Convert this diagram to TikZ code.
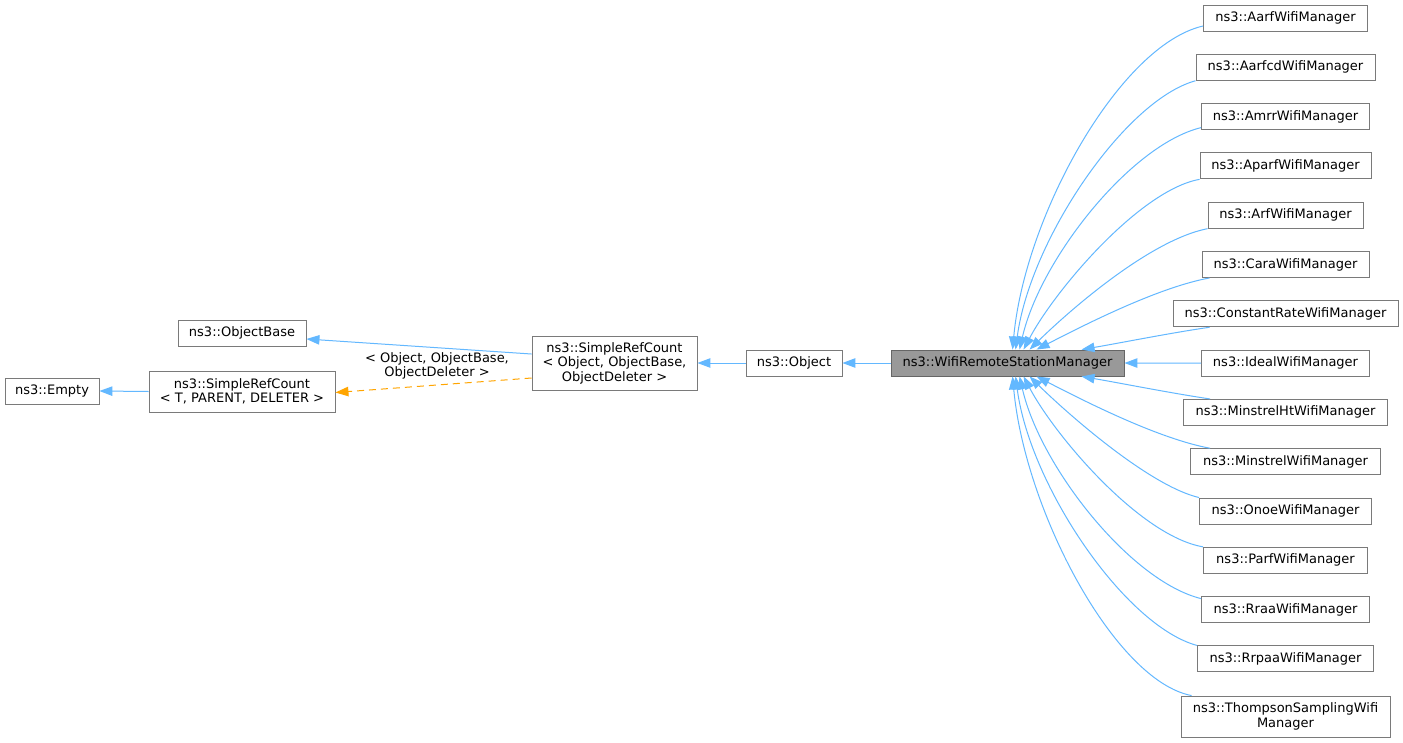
\documentclass[tikz,border=0pt]{standalone}
\usepackage{fontspec}
\setmainfont{DejaVu Sans}
\usetikzlibrary{arrows.meta,calc}
\definecolor{eblue}{HTML}{63B8FF}
\definecolor{eorange}{HTML}{FFA500}
\definecolor{bgray}{HTML}{7A7A7A}
\definecolor{dgray}{HTML}{666666}
\definecolor{fgray}{HTML}{999999}
\tikzset{
  cls/.style={draw=bgray, line width=0.9pt, fill=white, rectangle, inner sep=0pt,
    minimum height=26pt, align=center, font=\fontsize{13}{14.5}\selectfont},
  edge/.style={draw=eblue, line width=1pt, -{Triangle[length=13pt,width=9.5pt,color=eblue]}},
  tedge/.style={draw=eorange, line width=1pt, dash pattern=on 7pt off 5pt,
    -{Triangle[length=13pt,width=9.5pt,color=eorange]}},
  lbl/.style={inner sep=0pt, align=center, font=\fontsize{13}{14.5}\selectfont}
}
\begin{document}
\begin{tikzpicture}[x=1pt,y=-1pt]
\useasboundingbox[fill=white] (0,0) rectangle (1403,742);
% left part
\node[cls, minimum width=94pt] (empty) at (52,391) {ns3::Empty};
\node[cls, minimum width=186pt, minimum height=41pt] (src) at (242,391.5) {ns3::SimpleRefCount\\{}< T, PARENT, DELETER >};
\node[cls, minimum width=128pt] (objbase) at (242,333) {ns3::ObjectBase};
\node[cls, minimum width=165pt, minimum height=54pt] (src2) at (614.5,363) {ns3::SimpleRefCount\\{}< Object, ObjectBase,\\ObjectDeleter >};
\node[cls, minimum width=96pt] (object) at (794,363) {ns3::Object};
\node[cls, minimum width=233pt, fill=fgray, draw=dgray] (wrsm) at (1007.5,363) {ns3::WifiRemoteStationManager};
% right column
\node[cls, minimum width=164pt] (aarf) at (1285.5,18) {ns3::AarfWifiManager};
\node[cls, minimum width=179pt] (aarfcd) at (1285.5,67.3) {ns3::AarfcdWifiManager};
\node[cls, minimum width=168pt] (amrr) at (1285.5,116.6) {ns3::AmrrWifiManager};
\node[cls, minimum width=171pt] (aparf) at (1285.5,165.9) {ns3::AparfWifiManager};
\node[cls, minimum width=155pt] (arf) at (1285.5,215.2) {ns3::ArfWifiManager};
\node[cls, minimum width=167pt] (cara) at (1285.5,264.5) {ns3::CaraWifiManager};
\node[cls, minimum width=225pt] (constant) at (1285.5,313.8) {ns3::ConstantRateWifiManager};
\node[cls, minimum width=168pt] (ideal) at (1285.5,363.1) {ns3::IdealWifiManager};
\node[cls, minimum width=204pt] (minstrelht) at (1285.5,412.4) {ns3::MinstrelHtWifiManager};
\node[cls, minimum width=190pt] (minstrel) at (1285.5,461.7) {ns3::MinstrelWifiManager};
\node[cls, minimum width=172pt] (onoe) at (1285.5,511) {ns3::OnoeWifiManager};
\node[cls, minimum width=164pt] (parf) at (1285.5,560.3) {ns3::ParfWifiManager};
\node[cls, minimum width=168pt] (rraa) at (1285.5,609.6) {ns3::RraaWifiManager};
\node[cls, minimum width=176pt] (rrpaa) at (1285.5,658.9) {ns3::RrpaaWifiManager};
\node[cls, minimum width=209pt, minimum height=41pt] (thompson) at (1285.5,716.5) {ns3::ThompsonSamplingWifi\\Manager};
% left edges
\draw[edge] (src.west) -- (empty.east);
\draw[edge] ($(src2.west)+(0,-9)$) -- ($(objbase.east)+(0,6)$);
\draw[tedge] ($(src2.west)+(0,15)$) -- ($(src.east)+(0,1)$);
\node[lbl] (tlabel) at (437,366) {< Object, ObjectBase,\\ObjectDeleter >};
\draw[edge] (object.west) -- (src2.east);
\draw[edge] (wrsm.west) -- (object.east);
% right edges
\draw[edge] ($(aarf.west)+(0,8)$) .. controls (1120,45) and (1025,215) .. ($(wrsm.north west)+(122,0)$);
\draw[edge] (aarfcd.south west) .. controls (1125,100) and (1030,240) .. ($(wrsm.north west)+(125,0)$);
\draw[edge] ($(amrr.west)+(0,11)$) .. controls (1130,145) and (1040,260) .. ($(wrsm.north west)+(129,0)$);
\draw[edge] (aparf.south west) .. controls (1140,190) and (1055,290) .. ($(wrsm.north west)+(133,0)$);
\draw[edge] (arf.south west) .. controls (1150,240) and (1070,310) .. ($(wrsm.north west)+(139,0)$);
\draw[edge] ($(cara.south west)+(8,0)$) .. controls (1160,287) and (1090,322) .. ($(wrsm.north west)+(146,0)$);
\draw[edge] ($(constant.south west)+(37,0)$) .. controls (1170,333) and (1120,343) .. ($(wrsm.north west)+(191,0)$);
\draw[edge] (ideal.west) -- (wrsm.east);
\draw[edge] ($(minstrelht.north west)+(27,0)$) .. controls (1170,393) and (1120,383) .. ($(wrsm.south west)+(191,0)$);
\draw[edge] ($(minstrel.north west)+(20,0)$) .. controls (1160,439) and (1090,404) .. ($(wrsm.south west)+(146,0)$);
\draw[edge] (onoe.north west) .. controls (1150,486) and (1070,416) .. ($(wrsm.south west)+(139,0)$);
\draw[edge] (parf.north west) .. controls (1140,536) and (1055,436) .. ($(wrsm.south west)+(133,0)$);
\draw[edge] ($(rraa.west)+(0,-11)$) .. controls (1130,581) and (1040,466) .. ($(wrsm.south west)+(129,0)$);
\draw[edge] (rrpaa.north west) .. controls (1125,626) and (1030,486) .. ($(wrsm.south west)+(125,0)$);
\draw[edge] ($(thompson.north west)+(11,0)$) .. controls (1115,681) and (1025,511) .. ($(wrsm.south west)+(122,0)$);
\end{tikzpicture}
\end{document}
